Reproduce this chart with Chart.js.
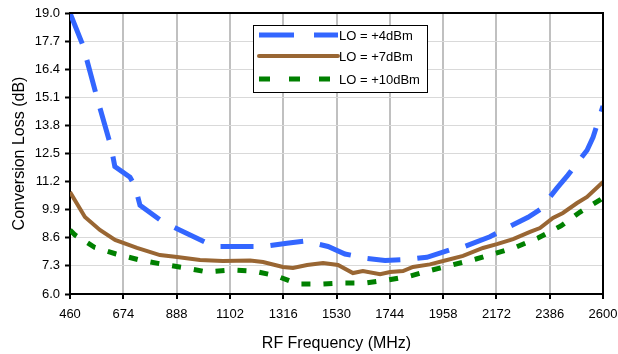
<!DOCTYPE html>
<html>
<head>
<meta charset="utf-8">
<script src="https://cdn.jsdelivr.net/npm/chart.js@4/dist/chart.umd.min.js"></script>
<style>
html,body{margin:0;padding:0;background:#fff;}
#c{display:block;}
</style>
</head>
<body>
<canvas id="c" width="618" height="354"></canvas>
<script>
// ---- data ----
const xTicks = [460, 674, 888, 1102, 1316, 1530, 1744, 1958, 2172, 2386, 2600];
const yTicks = [6.0, 7.3, 8.6, 9.9, 11.2, 12.5, 13.8, 15.1, 16.4, 17.7, 19.0];
const seriesNames = ["LO = +4dBm", "LO = +7dBm", "LO = +10dBm"];

const lo4Freq = [460, 512, 568, 625, 640, 701, 721, 741, 825, 894, 1002, 1054, 1171, 1235, 1331, 1404, 1496, 1564, 1652, 1725, 1817, 1893, 1986, 2034, 2146, 2194, 2299, 2347, 2415, 2459, 2536, 2560, 2600];
const lo4Loss = [19.0, 17.5, 15.1, 12.8, 11.9, 11.4, 11.0, 10.1, 9.4, 9.0, 8.4, 8.2, 8.2, 8.2, 8.35, 8.45, 8.2, 7.85, 7.65, 7.55, 7.6, 7.7, 8.05, 8.15, 8.65, 8.95, 9.55, 9.9, 10.9, 11.5, 12.65, 13.25, 14.7];

const lo7Freq = [460, 520, 580, 641, 729, 821, 890, 982, 1074, 1183, 1235, 1315, 1355, 1412, 1476, 1536, 1596, 1636, 1705, 1745, 1797, 1837, 1905, 1974, 2038, 2118, 2174, 2239, 2307, 2347, 2399, 2439, 2496, 2536, 2600];
const lo7Loss = [10.72, 9.56, 8.96, 8.50, 8.13, 7.80, 7.71, 7.57, 7.53, 7.55, 7.48, 7.25, 7.20, 7.34, 7.43, 7.34, 6.97, 7.06, 6.92, 7.02, 7.06, 7.25, 7.37, 7.57, 7.76, 8.13, 8.31, 8.54, 8.87, 9.05, 9.52, 9.75, 10.21, 10.49, 11.18];

const lo10Freq = [460, 480, 560, 645, 741, 825, 926, 1010, 1110, 1199, 1291, 1375, 1472, 1556, 1648, 1737, 1825, 1913, 1994, 2090, 2174, 2251, 2339, 2431, 2508, 2588, 2600];
const lo10Loss = [8.96, 8.73, 8.15, 7.85, 7.57, 7.39, 7.20, 7.02, 7.11, 7.06, 6.83, 6.46, 6.46, 6.51, 6.51, 6.65, 6.83, 7.11, 7.34, 7.62, 7.90, 8.17, 8.59, 9.15, 9.79, 10.35, 10.45];

const toPts = (xs, ys) => xs.map((x, i) => ({x: x, y: ys[i]}));

const FONT = "'Liberation Sans', Arial, sans-serif";

const legendPlugin = {
  id: 'boxLegend',
  afterDraw(chart) {
    const ctx = chart.ctx;
    const ca = chart.chartArea;
    // plot border (top/right)
    ctx.save();
    ctx.strokeStyle = '#000';
    ctx.lineWidth = 2;
    ctx.beginPath();
    ctx.moveTo(ca.left, ca.top);
    ctx.lineTo(ca.right, ca.top);
    ctx.lineTo(ca.right, ca.bottom);
    ctx.stroke();
    // legend box
    const bx = ca.left + 183, by = ca.top + 12, bw = 174, bh = 67;
    ctx.fillStyle = '#fff';
    ctx.fillRect(bx, by, bw, bh);
    ctx.lineWidth = 1;
    ctx.strokeStyle = '#000';
    ctx.strokeRect(bx + 0.5, by + 0.5, bw, bh);
    const rows = [by + 10, by + 31, by + 54];
    const dashes = [[35, 20], [], [11, 19]];
    chart.data.datasets.forEach((ds, i) => {
      ctx.save();
      ctx.strokeStyle = ds.borderColor;
      ctx.lineWidth = ds.borderWidth;
      ctx.lineCap = i === 1 ? 'round' : 'butt';
      ctx.setLineDash(dashes[i]);
      ctx.beginPath();
      ctx.moveTo(bx + 6, rows[i]);
      ctx.lineTo(bx + 85, rows[i]);
      ctx.stroke();
      ctx.restore();
      ctx.fillStyle = '#000';
      ctx.font = '13px ' + FONT;
      ctx.textBaseline = 'middle';
      ctx.textAlign = 'left';
      ctx.fillText(ds.label, bx + 86, rows[i] + 1);
    });
    ctx.restore();
  }
};

new Chart(document.getElementById('c'), {
  type: 'line',
  data: {
    datasets: [
      {label: seriesNames[0], data: toPts(lo4Freq, lo4Loss), borderColor: '#3366FF', borderWidth: 5, borderDash: [33, 17], pointRadius: 0, tension: 0, fill: false},
      {label: seriesNames[1], data: toPts(lo7Freq, lo7Loss), borderColor: '#996633', borderWidth: 4, pointRadius: 0, tension: 0, fill: false},
      {label: seriesNames[2], data: toPts(lo10Freq, lo10Loss), borderColor: '#008000', borderWidth: 5, borderDash: [9, 13], pointRadius: 0, tension: 0, fill: false}
    ]
  },
  options: {
    responsive: false,
    animation: false,
    layout: {padding: {top: 13, right: 15, left: 0, bottom: 0}},
    plugins: {legend: {display: false}, tooltip: {enabled: false}},
    scales: {
      x: {
        type: 'linear', min: 460, max: 2600,
        afterBuildTicks: s => { s.ticks = xTicks.map(v => ({value: v})); },
        afterFit: s => { s.height = 60; s.paddingLeft = 0; s.paddingRight = 0; },
        ticks: {color: '#000', font: {family: FONT, size: 13}, padding: 8, maxRotation: 0, autoSkip: false, callback: v => String(v)},
        grid: {color: '#c0c0c0', lineWidth: 2, tickColor: '#000', tickLength: 5, tickWidth: 2},
        border: {color: '#000', width: 2},
        title: {display: true, text: 'RF Frequency (MHz)', color: '#000', font: {family: FONT, size: 16}, padding: {top: 0, bottom: 1}}
      },
      y: {
        type: 'linear', min: 6.0, max: 19.0,
        afterBuildTicks: s => { s.ticks = yTicks.map(v => ({value: v})); },
        afterFit: s => { s.width = 70; s.paddingTop = 0; s.paddingBottom = 0; },
        ticks: {color: '#000', font: {family: FONT, size: 13}, padding: 5, autoSkip: false, callback: v => Number(v).toFixed(1)},
        grid: {color: '#d9d9d9', lineWidth: 1, tickColor: '#000', tickLength: 5, tickWidth: 2},
        border: {color: '#000', width: 2},
        title: {display: true, text: 'Conversion Loss (dB)', color: '#000', font: {family: FONT, size: 16}, padding: {top: 10, bottom: 0}}
      }
    }
  },
  plugins: [legendPlugin]
});
</script>
</body>
</html>
